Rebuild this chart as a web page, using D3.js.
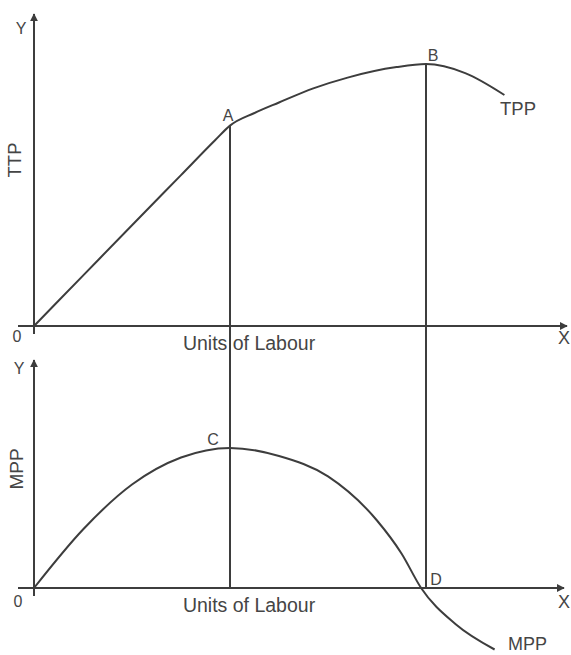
<!DOCTYPE html>
<html>
<head>
<meta charset="utf-8">
<script src="https://cdn.jsdelivr.net/npm/d3@7"></script>
<style>
  html, body { margin: 0; padding: 0; background: #fff; }
  svg { display: block; }
  text { font-family: "Liberation Sans", Arial, Helvetica, sans-serif; fill: #454545; }
</style>
</head>
<body>
<svg id="chart" width="571" height="655"></svg>
<script>
// Units of labour (x) and product values
const tppX = [0, 1, 2, 3, 3.7, 4, 4.5, 5, 5.7, 6.4, 7.4, 8, 8.8, 9.6];
const tppY = [0, 1.68, 3.36, 5.03, 6.2, 6.68, 7.1, 7.45, 7.92, 8.28, 8.63, 8.73, 8.43, 7.7];

const mppX = [0, 1, 2, 3, 4, 5, 6, 7, 7.5, 7.9, 8.6, 9.4];
const mppY = [0, 1.95, 3.45, 4.35, 4.67, 4.4, 3.72, 2.25, 1.15, 0, -1.2, -2.05];

// Key points: A/B on TPP, C/D on MPP
const keyLabels = ["A", "B", "C", "D"];
const keyX = [4, 8, 4, 8];

const axisTitleX = "Units of Labour";
const topYTitle = "TTP";
const bottomYTitle = "MPP";
const curveLabels = ["TPP", "MPP"];

const svg = d3.select("#chart");
const ink = "#3d3d3d";

const x = d3.scaleLinear().domain([0, 10]).range([34, 524]);
const yTop = d3.scaleLinear().domain([0, 10]).range([326, 26]);
const yBot = d3.scaleLinear().domain([0, 7.5]).range([588, 363]);

const tppData = tppX.map((v, i) => [v, tppY[i]]);
const mppData = mppX.map((v, i) => [v, mppY[i]]);

const valueAt = (xs, ys, v) => ys[xs.indexOf(v)];

// arrow marker
const defs = svg.append("defs");
defs.append("marker")
  .attr("id", "arr")
  .attr("viewBox", "0 0 10 10")
  .attr("refX", 9).attr("refY", 5)
  .attr("markerWidth", 4).attr("markerHeight", 4)
  .attr("markerUnits", "strokeWidth")
  .attr("orient", "auto")
  .append("path").attr("d", "M0,0 L10,5 L0,10 Z").attr("fill", ink);

function drawAxes(y, yMaxPix, xEndPix) {
  const ox = x(0), oy = y(0);
  svg.append("line")
    .attr("x1", ox - 16).attr("y1", oy)
    .attr("x2", xEndPix).attr("y2", oy)
    .attr("stroke", ink).attr("stroke-width", 2)
    .attr("marker-end", "url(#arr)");
  svg.append("line")
    .attr("x1", ox).attr("y1", oy + 8)
    .attr("x2", ox).attr("y2", yMaxPix)
    .attr("stroke", ink).attr("stroke-width", 2)
    .attr("marker-end", "url(#arr)");
}

drawAxes(yTop, 14, 567);
drawAxes(yBot, 360, 564);

// guide verticals from A and B down to the lower x axis
[0, 1].forEach(i => {
  const xv = keyX[i];
  svg.append("line")
    .attr("x1", x(xv)).attr("x2", x(xv))
    .attr("y1", yTop(valueAt(tppX, tppY, xv)))
    .attr("y2", yBot(0))
    .attr("stroke", ink).attr("stroke-width", 2);
});

const line = (y) => d3.line().x(d => x(d[0])).y(d => y(d[1])).curve(d3.curveMonotoneX);

svg.append("path").datum(tppData)
  .attr("d", line(yTop))
  .attr("fill", "none").attr("stroke", ink).attr("stroke-width", 2);

svg.append("path").datum(mppData)
  .attr("d", line(yBot))
  .attr("fill", "none").attr("stroke", ink).attr("stroke-width", 2);

function txt(s, px, py, size, anchor) {
  return svg.append("text")
    .attr("x", px).attr("y", py)
    .attr("font-size", size)
    .attr("text-anchor", anchor || "middle")
    .text(s);
}
function vtxt(s, cx, cy, size) {
  return svg.append("text")
    .attr("transform", `translate(${cx},${cy}) rotate(-90)`)
    .attr("font-size", size)
    .attr("text-anchor", "middle")
    .attr("dy", "0.35em")
    .text(s);
}

// top panel labels
txt("Y", 21, 34, 16);
txt("0", 17, 342, 16);
txt("X", 564, 344, 18);
vtxt(topYTitle, 15, 160, 18.5);
txt(axisTitleX, x(4) + 19, 350, 19.5);

// bottom panel labels
txt("Y", 19, 374, 16);
txt("0", 18, 607, 16);
txt("X", 564, 608, 18);
vtxt(bottomYTitle, 16, 469, 19);
txt(axisTitleX, x(4) + 19, 612, 19.5);

// key point labels
txt(keyLabels[0], x(keyX[0]) - 2, yTop(valueAt(tppX, tppY, keyX[0])) - 5, 16);
txt(keyLabels[1], x(keyX[1]) + 7, yTop(valueAt(tppX, tppY, keyX[1])) - 3, 16);
txt(keyLabels[2], x(keyX[2]) - 17, yBot(valueAt(mppX, mppY, keyX[2])) - 3, 16);
txt(keyLabels[3], x(keyX[3]) + 10, yBot(0) - 3, 16);

// curve labels
txt(curveLabels[0], 500, 115, 18.5, "start");
txt(curveLabels[1], 508, 650, 18, "start");
</script>
</body>
</html>
